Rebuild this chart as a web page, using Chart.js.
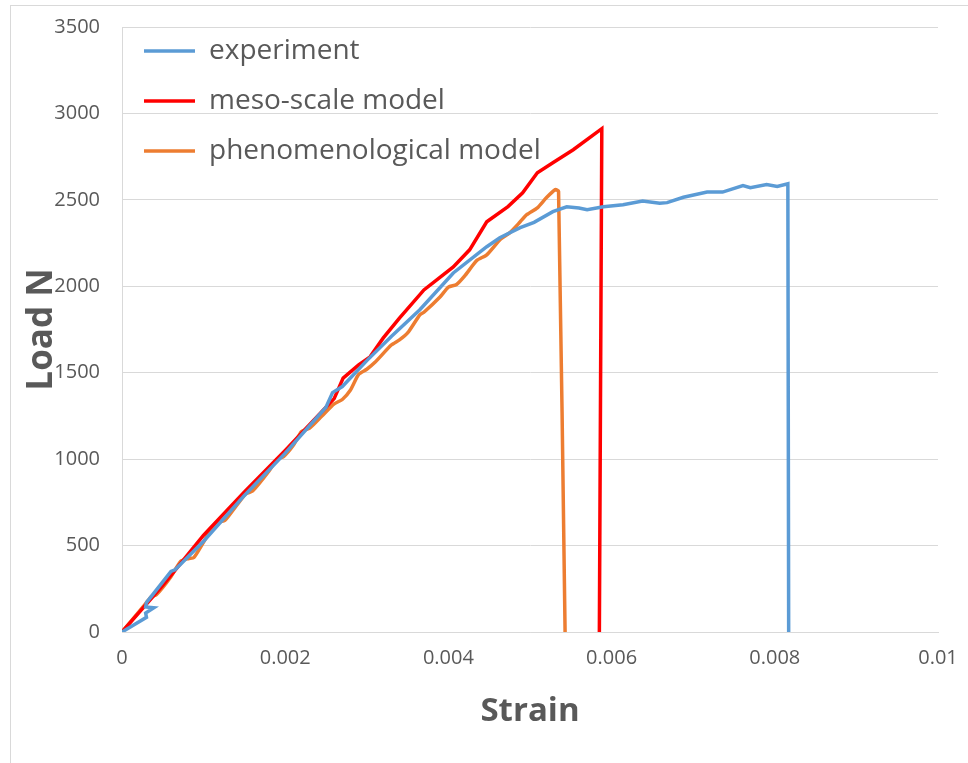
<!DOCTYPE html>
<html>
<head>
<meta charset="utf-8">
<script src="https://cdn.jsdelivr.net/npm/chart.js@4.4.1/dist/chart.umd.min.js"></script>
<style>
  body { margin: 0; overflow: hidden; background: #fff; }
  #frame { position: absolute; left: 10px; top: 5px; width: 1000px; height: 800px; border: 1px solid #d9d9d9; }
  #loadChart { position: absolute; left: 0; top: 0; }
</style>
</head>
<body>
<div id="frame"></div>
<canvas id="loadChart" width="968" height="763"></canvas>
<script>
// Load vs strain data
const seriesNames = ['experiment', 'meso-scale model', 'phenomenological model'];
const xTickLabels = ['0', '0.002', '0.004', '0.006', '0.008', '0.01'];
const yTickLabels = ['0', '500', '1000', '1500', '2000', '2500', '3000', '3500'];

const expStrain = [0, 0.0003, 0.00029, 0.00039, 0.00029, 0.0003, 0.0006, 0.00065, 0.001, 0.0015, 0.002, 0.0025, 0.00258, 0.0027, 0.003, 0.0033, 0.00365, 0.00406, 0.00447, 0.00463, 0.00488, 0.00505, 0.00528, 0.00545, 0.0056, 0.0057, 0.0059, 0.00614, 0.00638, 0.00659, 0.00668, 0.00688, 0.00717, 0.00736, 0.00761, 0.0077, 0.0079, 0.00803, 0.00816, 0.00817];
const expLoad = [0, 85, 110, 140, 145, 170, 350, 360, 525, 790, 1035, 1300, 1385, 1420, 1570, 1710, 1864, 2077, 2229, 2281, 2339, 2370, 2432, 2460, 2453, 2443, 2460, 2472, 2493, 2481, 2484, 2515, 2545, 2545, 2582, 2570, 2588, 2577, 2593, 0];

const mesoStrain = [0, 0.0005, 0.001, 0.0015, 0.002, 0.0025, 0.0026, 0.00271, 0.0029, 0.00304, 0.0032, 0.0034, 0.0037, 0.00406, 0.00426, 0.00447, 0.00473, 0.00491, 0.00509, 0.00528, 0.00553, 0.00588, 0.00585];
const mesoLoad = [0, 270, 560, 810, 1050, 1300, 1350, 1469, 1545, 1592, 1700, 1816, 1979, 2112, 2211, 2373, 2461, 2541, 2657, 2715, 2790, 2912, 0];

const phenoStrain = [0, 0.0003, 0.00036, 0.00042, 0.0006, 0.00072, 0.00082, 0.00088, 0.001, 0.0011, 0.00118, 0.00126, 0.0014, 0.00152, 0.0016, 0.0018, 0.0019, 0.00198, 0.0021, 0.0022, 0.0023, 0.00245, 0.0026, 0.0027, 0.0028, 0.0029, 0.003, 0.0031, 0.0033, 0.0034, 0.0035, 0.00365, 0.0037, 0.0039, 0.004, 0.0041, 0.0042, 0.00435, 0.00447, 0.00463, 0.00475, 0.00488, 0.00496, 0.00509, 0.0052, 0.00531, 0.00535, 0.00543];
const phenoLoad = [0, 170, 205, 215, 320, 410, 425, 430, 520, 600, 636, 645, 730, 800, 815, 930, 1000, 1015, 1080, 1160, 1180, 1250, 1320, 1345, 1400, 1490, 1520, 1560, 1660, 1690, 1730, 1835, 1850, 1940, 1995, 2010, 2060, 2150, 2182, 2268, 2309, 2373, 2414, 2454, 2512, 2559, 2550, 0];

const toPoints = (xs, ys) => xs.map((x, i) => ({ x: x, y: ys[i] }));

const fontFamily = '"Open Sans", "Liberation Sans", sans-serif';
const textColor = '#595959';

new Chart(document.getElementById('loadChart'), {
    type: 'line',
    data: {
        datasets: [
            { label: seriesNames[0], data: toPoints(expStrain, expLoad), borderColor: '#5B9BD5', borderWidth: 3.5, tension: 0 },
            { label: seriesNames[1], data: toPoints(mesoStrain, mesoLoad), borderColor: '#FF0000', borderWidth: 3.5, tension: 0 },
            { label: seriesNames[2], data: toPoints(phenoStrain, phenoLoad), borderColor: '#ED7D31', borderWidth: 3.5, tension: 0.2 }
        ]
    },
    options: {
        responsive: false,
        animation: false,
        parsing: false,
        elements: { point: { radius: 0 } },
        layout: { padding: { top: 27, right: 30, left: 0, bottom: 0 } },
        plugins: {
            tooltip: { enabled: false },
            legend: {
                position: 'chartArea',
                align: 'start',
                title: { display: true, text: '', padding: 0, font: { size: 10, lineHeight: '15px' } },
                labels: {
                    usePointStyle: true,
                    pointStyle: 'line',
                    pointStyleWidth: 51,
                    padding: 22,
                    color: textColor,
                    font: { family: fontFamily, size: 28 }
                }
            }
        },
        scales: {
            x: {
                type: 'linear',
                min: 0,
                max: 0.01,
                afterFit: s => { s.height = 131; s.paddingLeft = 0; s.paddingRight = 0; },
                grid: { display: false, drawTicks: false },
                border: { color: '#d9d9d9' },
                ticks: {
                    stepSize: 0.002,
                    padding: 14,
                    color: textColor,
                    font: { family: fontFamily, size: 20 },
                    callback: (v, i) => xTickLabels[i]
                },
                title: {
                    display: true,
                    text: 'Strain',
                    color: textColor,
                    font: { family: fontFamily, size: 33, weight: 'bold' },
                    padding: { top: 0, bottom: 32 }
                }
            },
            y: {
                min: 0,
                max: 3500,
                afterFit: s => { s.width = 122; s.paddingTop = 0; s.paddingBottom = 0; },
                grid: { color: '#d9d9d9', drawTicks: false },
                border: { color: '#d9d9d9' },
                ticks: {
                    stepSize: 500,
                    padding: 22,
                    color: textColor,
                    font: { family: fontFamily, size: 20 },
                    callback: (v, i) => yTickLabels[i]
                },
                title: {
                    display: true,
                    text: 'Load N',
                    color: textColor,
                    font: { family: fontFamily, size: 35, weight: 'bold' },
                    padding: { top: 21, bottom: 0 }
                }
            }
        }
    }
});
</script>
</body>
</html>
